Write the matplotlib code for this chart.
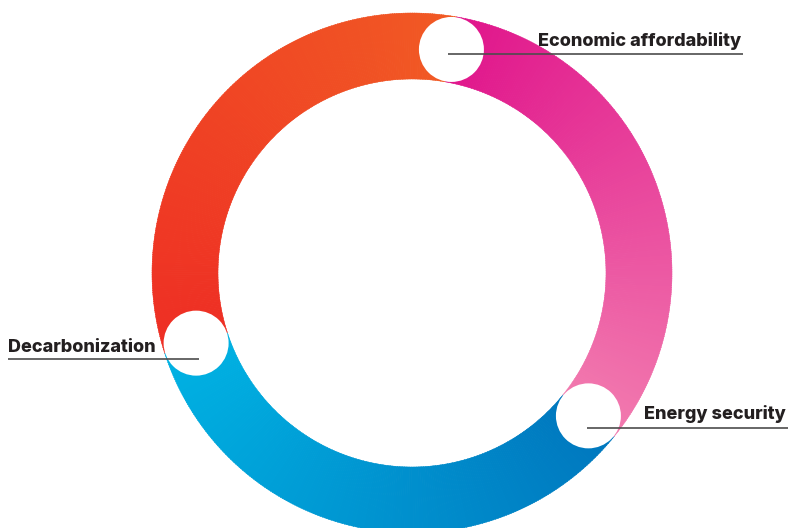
import numpy as np
import matplotlib
matplotlib.use("Agg")
import matplotlib.pyplot as plt
from matplotlib.patches import Wedge, Circle
from matplotlib.colors import to_rgb

# Three pillars of the energy trilemma, drawn counter-clockwise from the top
categories = ["Economic affordability", "Decarbonization", "Energy security"]
# Angular span of each ring segment (degrees), starting at the top marker
spans_deg = [118.0, 123.0, 119.0]
start_angle = 80.0
# Gradient end colours for each segment (start -> end of the counter-clockwise sweep)
grad_start = ["#F15A24", "#00B2E3", "#F27BAF"]
grad_end = ["#EE2E24", "#0077BE", "#E0148B"]

W, H = 788, 528
fig = plt.figure(figsize=(W / 100, H / 100), dpi=100)
ax = fig.add_axes([0, 0, 1, 1])
ax.set_xlim(0, W)
ax.set_ylim(H, 0)
ax.set_aspect("equal")
ax.axis("off")

cx, cy = 412.0, 273.0
r_out, r_in = 260.0, 194.0
r_mid = (r_out + r_in) / 2

# In the inverted y-axis, counter-clockwise on screen means negative data angles
theta = start_angle
boundaries = [theta]
for span, c0, c1 in zip(spans_deg, grad_start, grad_end):
    n = 240
    c0, c1 = np.array(to_rgb(c0)), np.array(to_rgb(c1))
    step = span / n
    for i in range(n):
        t = (i + 0.5) / n
        col = c0 + (c1 - c0) * t
        a0 = theta + i * step
        a1 = a0 + step + 0.15
        ax.add_patch(Wedge((cx, cy), r_out, -a1, -a0, width=r_out - r_in,
                           facecolor=col, edgecolor=col, linewidth=0.3,
                           antialiased=True, zorder=1))
    theta += span
    boundaries.append(theta)

# White markers at segment boundaries
marker_r = 32.5
markers = []
for b in boundaries[:3]:
    a = np.deg2rad(b)
    mx, my = cx + r_mid * np.cos(a), cy - r_mid * np.sin(a)
    markers.append((mx, my))
    ax.add_patch(Circle((mx, my), marker_r, facecolor="white",
                        edgecolor="none", zorder=2))

# Labels with underline leaders from each marker
text_color = "#231F20"
line_color = "#4D4D4D"
font = dict(family=["Inter", "DejaVu Sans"], fontweight="heavy",
            fontsize=13, color=text_color, zorder=4)

m_top, m_left, m_right = markers
# Economic affordability (top marker)
ax.plot([m_top[0] - 3, 743], [54, 54], color=line_color, lw=1.2, zorder=3,
        solid_capstyle="butt")
ax.text(741, 46, categories[0], ha="right", va="baseline", **font)
# Decarbonization (left marker)
ax.plot([8, m_left[0] + 3], [359, 359], color=line_color, lw=1.2, zorder=3,
        solid_capstyle="butt")
ax.text(8, 352, categories[1], ha="left", va="baseline", **font)
# Energy security (right marker)
ax.plot([m_right[0] - 1, 788], [428, 428], color=line_color, lw=1.2, zorder=3,
        solid_capstyle="butt")
ax.text(786, 419, categories[2], ha="right", va="baseline", **font)

fig.savefig("out.png", dpi=100, facecolor="white")
